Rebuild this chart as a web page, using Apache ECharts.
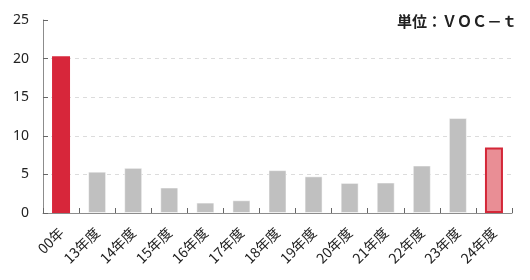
<!DOCTYPE html>
<html><head><meta charset="utf-8">
<script src="https://cdn.jsdelivr.net/npm/echarts@6/dist/echarts.min.js"></script>
<style>html,body{margin:0;padding:0;background:#fff}#c{width:530px;height:280px}</style>
</head><body><div id="c"></div>
<script>
const categories = ['00年','13年度','14年度','15年度','16年度','17年度','18年度','19年度','20年度','21年度','22年度','23年度','24年度'];
const values = [20.3, 5.35, 5.85, 3.3, 1.35, 1.65, 5.55, 4.75, 3.9, 3.95, 6.15, 12.3, 8.5];
const yTicks = [0, 5, 10, 15, 20, 25];
const unitLabel = '単位：ＶＯＣ－ｔ';

const data = values.map((v, i) => {
  if (i === 0) return { value: v, itemStyle: { color: '#d7263a', borderWidth: 0 } };
  if (i === values.length - 1) return { value: v, itemStyle: { color: '#e98e95', borderColor: '#d42738', borderWidth: 2 } };
  return v;
});

const chart = echarts.init(document.getElementById('c'), null, { renderer: 'canvas' });
chart.setOption({
  animation: false,
  backgroundColor: '#fff',
  textStyle: { fontFamily: '"Noto Sans CJK JP", "Noto Sans", sans-serif' },
  title: {
    text: unitLabel, right: 8, top: 9,
    textStyle: { fontSize: 15, fontWeight: 'bold', color: '#222', fontFamily: '"Noto Sans CJK JP", sans-serif' }
  },
  grid: { left: 43, right: 18, top: 20, bottom: 67, containLabel: false },
  xAxis: {
    type: 'category', data: categories,
    axisLine: { lineStyle: { color: '#8c8c8c', width: 1 } },
    axisTick: { show: true, inside: true, length: 5, alignWithLabel: false, lineStyle: { color: '#666' } },
    axisLabel: { rotate: 45, fontSize: 14, color: '#222', margin: 17, interval: 0,
      fontFamily: '"Noto Sans CJK JP", sans-serif' }
  },
  yAxis: {
    type: 'value', min: yTicks[0], max: yTicks[yTicks.length - 1], interval: 5,
    axisLine: { show: true, lineStyle: { color: '#8c8c8c', width: 1 } },
    axisTick: { show: true, inside: true, length: 5, lineStyle: { color: '#666' } },
    axisLabel: { fontSize: 14, color: '#222', margin: 14, fontFamily: '"Noto Sans", sans-serif' },
    splitLine: { show: true, showMinLine: false, showMaxLine: false,
      lineStyle: { color: '#dcdcdc', type: [4, 4], width: 1 } }
  },
  series: [{
    type: 'bar', data: data, barWidth: 18,
    itemStyle: { color: '#c0c0c0', borderColor: 'rgba(255,255,255,0.5)', borderWidth: 1 }
  }]
});
</script></body></html>
